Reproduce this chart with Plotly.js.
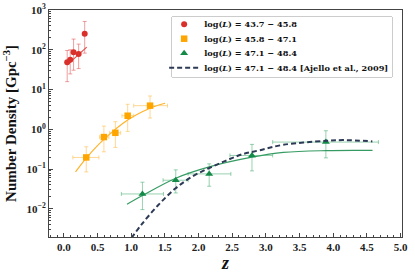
<!DOCTYPE html>
<html><head><meta charset="utf-8">
<script src="https://cdn.plot.ly/plotly-3.0.1.min.js"></script>
<style>html,body{margin:0;padding:0;background:#fff}#chart{width:415px;height:277px}</style>
</head><body><div id="chart"></div>
<script>
// log(L) = 43.7 - 45.8
const redZ   = [0.05, 0.095, 0.145, 0.22, 0.31];
const redN   = [48.9, 55.8, 87, 78, 253];
const redUp  = [96, 100, 186, 139, 516];
const redLo  = [15.8, 24.8, 30.7, 33.7, 82.4];
const redFitZ = [0.05, 0.34];
const redFitN = [41.9, 117];

// log(L) = 45.8 - 47.1
const orZ    = [0.333, 0.595, 0.765, 0.948, 1.28];
const orN    = [0.197, 0.64, 0.82, 2.2, 3.94];
const orUp   = [0.365, 1.21, 1.56, 4.27, 6.9];
const orLo   = [0.0853, 0.273, 0.352, 0.89, 1.93];
const orZlo  = [0.134, 0.531, 0.68, 0.863, 1.037];
const orZhi  = [0.521, 0.67, 0.844, 1.037, 1.539];
const orFitZ = [0.174, 0.333, 0.595, 0.948, 1.28, 1.503];
const orFitN = [0.085, 0.19, 0.56, 1.72, 3.39, 4.53];

// log(L) = 47.1 - 48.4
const grZ    = [1.167, 1.662, 2.158, 2.793, 3.89];
const grN    = [0.0238, 0.0527, 0.076, 0.221, 0.479];
const grUp   = [0.047, 0.096, 0.136, 0.419, 0.923];
const grLo   = [0.00963, 0.0252, 0.0372, 0.0905, 0.192];
const grZlo  = [0.854, 1.473, 1.845, 2.466, 3.10];
const grZhi  = [1.479, 1.845, 2.48, 3.10, 4.67];
const grFitZ = [0.938, 1.167, 1.662, 2.158, 2.793, 3.26, 3.89, 4.583];
const grFitN = [0.0131, 0.0217, 0.0593, 0.114, 0.2, 0.263, 0.292, 0.295];

// Ajello et al. 2009 model
const ajZ = [1.003, 1.152, 1.399, 1.65, 1.896, 2.143, 2.391, 2.64, 2.912, 3.26, 3.89, 4.15, 4.58];
const ajN = [0.00185, 0.00403, 0.01236, 0.032, 0.0638, 0.104, 0.159, 0.2344, 0.30, 0.41, 0.516, 0.537, 0.499];

const legendNames = [
  'log(<i>L</i>) = 43.7 − 45.8',
  'log(<i>L</i>) = 45.8 − 47.1',
  'log(<i>L</i>) = 47.1 − 48.4',
  'log(<i>L</i>) = 47.1 − 48.4 [Ajello et al., 2009]'
];
const xTicks = [0, 0.5, 1, 1.5, 2, 2.5, 3, 3.5, 4, 4.5, 5];
const xTickText = ['0.0','0.5','1.0','1.5','2.0','2.5','3.0','3.5','4.0','4.5','5.0'];
const yTicks = [0.01, 0.1, 1, 10, 100, 1000];
const yTickText = ['10<sup>−2</sup>','10<sup>−1</sup>','10<sup>0</sup>','10<sup>1</sup>','10<sup>2</sup>','10<sup>3</sup>'];

const sub = (a, b) => a.map((v, i) => v - b[i]);

const RED = '#d9302c', ORANGE = '#ffa500', GREEN = '#138a48', NAVY = '#2d3a56';
const FONT = 'Liberation Serif';
const LFONT = 'DejaVu Serif';

const traces = [
  {x: redFitZ, y: redFitN, mode: 'lines', line: {color: RED, width: 1.2}, opacity: 0.85, showlegend: false, hoverinfo: 'skip'},
  {x: orFitZ, y: orFitN, mode: 'lines', line: {color: ORANGE, width: 1.2, shape: 'spline'}, opacity: 0.85, showlegend: false, hoverinfo: 'skip'},
  {x: grFitZ, y: grFitN, mode: 'lines', line: {color: GREEN, width: 1.2, shape: 'spline'}, opacity: 0.85, showlegend: false, hoverinfo: 'skip'},
  {x: redZ, y: redN, name: legendNames[0], mode: 'markers', marker: {color: RED, size: 6, symbol: 'circle'},
   error_y: {type: 'data', symmetric: false, array: sub(redUp, redN), arrayminus: sub(redN, redLo), color: 'rgba(225,80,80,0.55)', thickness: 1, width: 2}},
  {x: orZ, y: orN, name: legendNames[1], mode: 'markers', marker: {color: ORANGE, size: 6.5, symbol: 'square'},
   error_y: {type: 'data', symmetric: false, array: sub(orUp, orN), arrayminus: sub(orN, orLo), color: 'rgba(255,190,80,0.6)', thickness: 1, width: 2},
   error_x: {type: 'data', symmetric: false, array: sub(orZhi, orZ), arrayminus: sub(orZ, orZlo), color: 'rgba(255,190,80,0.6)', thickness: 1, width: 2}},
  {x: grZ, y: grN, name: legendNames[2], mode: 'markers', marker: {color: GREEN, size: 7, symbol: 'triangle-up'},
   error_y: {type: 'data', symmetric: false, array: sub(grUp, grN), arrayminus: sub(grN, grLo), color: 'rgba(50,165,100,0.5)', thickness: 1, width: 2},
   error_x: {type: 'data', symmetric: false, array: sub(grZhi, grZ), arrayminus: sub(grZ, grZlo), color: 'rgba(50,165,100,0.5)', thickness: 1, width: 2}},
  {x: ajZ, y: ajN, name: legendNames[3], mode: 'lines', line: {color: NAVY, width: 2, dash: '5px,3px', shape: 'spline'}}
];

const axisCommon = {
  showline: true, linecolor: '#444', linewidth: 1, mirror: true,
  ticks: 'inside', ticklen: 4, tickcolor: '#444', tickwidth: 1,
  showgrid: false, zeroline: false, automargin: false,
  tickfont: {family: FONT, size: 11, color: '#222', weight: 'bold'}
};

const layout = {
  width: 415, height: 277,
  margin: {l: 49, r: 13, t: 10, b: 40, autoexpand: false},
  paper_bgcolor: '#fff', plot_bgcolor: '#fff',
  font: {family: FONT, color: '#222'},
  xaxis: Object.assign({}, axisCommon, {
    range: [-0.22, 5.02], tickmode: 'array', tickvals: xTicks, ticktext: xTickText,
    minor: {ticks: 'inside', ticklen: 2, dtick: 0.1, tickcolor: '#444'},
    title: {text: '<b><i>z</i></b>', font: {family: FONT, size: 18, color: '#111'}, standoff: 4}
  }),
  yaxis: Object.assign({}, axisCommon, {
    type: 'log', range: [-2.705, 3.0], tickmode: 'array', tickvals: yTicks, ticktext: yTickText,
    minor: {ticks: 'inside', ticklen: 2, dtick: 'D1', tickcolor: '#444'},
    title: {text: '<b>Number Density [Gpc<sup>−3</sup>]</b>', font: {family: FONT, size: 15, color: '#111'}, standoff: 6}
  }),
  legend: {
    x: 0.346, y: 0.974, xanchor: 'left', yanchor: 'top',
    bgcolor: '#fff', bordercolor: '#ccc', borderwidth: 1,
    font: {family: LFONT, size: 8.2, color: '#111', weight: 'bold'},
    itemwidth: 30, tracegroupgap: 0
  },
  showlegend: true
};

Plotly.newPlot('chart', traces, layout, {staticPlot: true, displayModeBar: false}).then(function (gd) {
  // tighten legend spacing/size to match the reference
  const leg = gd.querySelector('.legend');
  if (!leg) return;
  const items = Array.from(leg.querySelectorAll('g.traces'));
  if (items.length < 2) return;
  const parse = el => {
    const m = /translate\(\s*([-\d.e]+)[ ,]+([-\d.e]+)/.exec(el.getAttribute('transform') || '');
    return m ? [parseFloat(m[1]), parseFloat(m[2])] : null;
  };
  const step = 14.5, first = 8.3, dx = -8;
  items.forEach((el, i) => {
    const p = parse(el);
    if (p) el.setAttribute('transform', 'translate(' + (p[0] + dx) + ',' + (first + i * step) + ')');
  });
  const bg = leg.querySelector('rect.bg');
  if (bg) {
    bg.setAttribute('height', 2 * first + (items.length - 1) * step + 1);
    bg.setAttribute('width', 221);
    bg.setAttribute('rx', 2); bg.setAttribute('ry', 2);
  }
  const sb = leg.querySelector('.scrollbox');
  if (sb) sb.removeAttribute('clip-path');
});
</script>
</body></html>
